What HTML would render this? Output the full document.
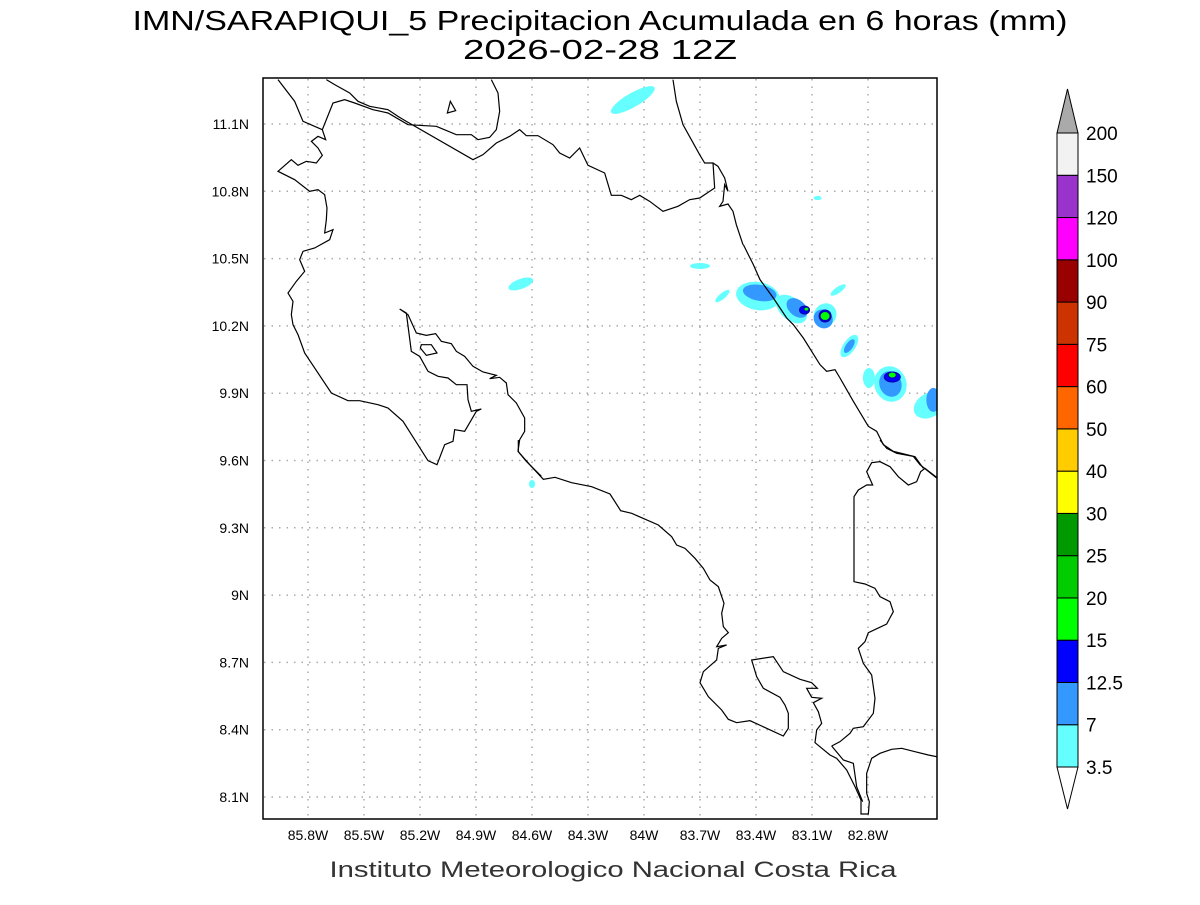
<!DOCTYPE html>
<html><head><meta charset="utf-8"><style>
body{margin:0;background:#fff;width:1200px;height:900px;overflow:hidden}
svg text{font-family:"Liberation Sans","DejaVu Sans",sans-serif}
</style></head><body>
<svg id="chart" width="1200" height="900" viewBox="0 0 1200 900" xmlns="http://www.w3.org/2000/svg">
<rect width="1200" height="900" fill="#fff"/>
<text x="600" y="30" font-size="28" text-anchor="middle" textLength="935" lengthAdjust="spacingAndGlyphs">IMN/SARAPIQUI_5 Precipitacion Acumulada en 6 horas (mm)</text>
<text x="600" y="59" font-size="28" text-anchor="middle" textLength="274" lengthAdjust="spacingAndGlyphs">2026-02-28 12Z</text>
<defs><clipPath id="frameclip"><rect x="263" y="78" width="674" height="741"/></clipPath></defs>
<g id="grid"></g>
<g id="blobs" clip-path="url(#frameclip)"></g>
<g fill="none" stroke="#000" stroke-width="1.2" clip-path="url(#frameclip)">
<g transform="translate(263,78) scale(0.33333)">
<polyline vector-effect="non-scaling-stroke" points="45,5 95,70 120,130 178,155 210,75 245,65 275,75 330,95 375,105 435,140 520,145 580,170 625,170 645,185 680,178 700,155 710,100 705,45 685,5"/>
<polyline vector-effect="non-scaling-stroke" points="190,5 215,20 260,45 285,70 320,85 375,95 405,115 430,130 630,245 660,230 700,195 740,175 770,155 790,173 825,173 870,200 890,225 920,240 950,210 975,262 1025,285 1045,352 1075,352 1105,365 1130,352 1160,370 1200,400 1245,385 1280,365 1310,360 1355,330 1350,255 1325,255 1310,230 1260,140 1240,70 1230,5"/>
<polyline vector-effect="non-scaling-stroke" points="1350,255 1365,265 1385,300 1395,340 1385,320 1380,370 1370,385 1395,378 1410,400 1420,440 1440,500"/>
<polyline vector-effect="non-scaling-stroke" points="178,155 188,185 165,175 145,190 165,210 178,232 160,255 130,250 105,262 85,245 45,280 95,305 140,340 165,335 185,350 192,390 190,425 185,465 210,455 200,485 155,510 120,520 110,545 125,580 100,610 75,645 90,670 85,710 90,740 105,770 125,825 205,945 255,968 290,968 345,980 375,990 420,1030 495,1148 522,1160 545,1100 570,1090 575,1055 605,1060 640,1000 655,993 625,1000 615,965 612,920 580,920 555,900 525,895 495,880 470,835 445,820 430,705 410,693 435,710 460,765 490,772 518,767 535,790 565,797 580,820 605,835 630,865 660,882 700,892 680,902 710,898 730,915 735,950 760,975 785,1020 785,1060 770,1085 765,1120 790,1150 835,1195"/>
<polygon vector-effect="non-scaling-stroke" points="475,800 505,800 522,825 490,832 472,810"/>
<polygon vector-effect="non-scaling-stroke" points="553,105 562,70 578,98"/>
</g>
<g transform="translate(600,78) scale(0.33333)">
<polyline vector-effect="non-scaling-stroke" points="430,500 460,560 480,605 520,660 560,720 580,740 610,780 660,860 680,880 705,875 720,900 760,970 805,1045 830,1060 850,1100 880,1120 940,1135 960,1160 1010,1200"/>
</g>
<g transform="translate(500,440) scale(0.33333)">
<polyline vector-effect="non-scaling-stroke" points="55,0 55,35 90,75 130,118 165,112 215,128 275,140 330,162 362,212 395,220 475,255 515,290 530,315 555,325 585,355 610,385 630,420 655,440 672,490 665,520 670,560 685,578 665,595 650,620 680,615 655,625 650,660 610,695 600,728 625,770 665,810 685,838 710,848 750,842 850,888 865,865 865,820 855,795 840,772 790,745 770,710 755,660 820,650 850,695 900,718 935,728 952,745 920,745 935,772 965,775 940,788 955,815 965,850 950,870 945,908 990,945 1010,955 1040,990 1065,1040 1083,1080 1083,1122 1105,1122 1108,1085 1100,1060 1100,1000 1115,955 1140,940 1175,928 1205,925 1245,935 1285,945 1320,952"/>
<polyline vector-effect="non-scaling-stroke" points="995,918 1030,960 1060,970 1070,1040 1088,1085"/>
<polyline vector-effect="non-scaling-stroke" points="995,918 1020,905 1050,880 1060,865 1090,860 1120,820 1125,775 1115,705 1090,670 1075,625 1095,605 1105,578 1160,552 1180,515 1170,485 1140,470 1125,445 1095,432 1062,425 1062,170 1075,150 1100,135 1118,135 1100,95 1115,68 1140,65 1170,80 1195,110 1225,135 1250,125 1262,95 1275,85 1320,120"/>
<polyline vector-effect="non-scaling-stroke" points="1140,0 1160,25 1190,40 1245,50 1270,85"/>
</g>
</g>
<rect x="263" y="78" width="674" height="741" fill="none" stroke="#000" stroke-width="1.5"/>
<g id="lonlabels"></g>
<g id="latlabels"></g>
<g id="colorbar"></g>
<text x="613" y="877" font-size="22" text-anchor="middle" fill="#333" textLength="567" lengthAdjust="spacingAndGlyphs">Instituto Meteorologico Nacional Costa Rica</text>
</svg>
<script>
const lonTicks=[-85.8,-85.5,-85.2,-84.9,-84.6,-84.3,-84.0,-83.7,-83.4,-83.1,-82.8];
const lonTickLabels=["85.8W","85.5W","85.2W","84.9W","84.6W","84.3W","84W","83.7W","83.4W","83.1W","82.8W"];
const latTicks=[11.1,10.8,10.5,10.2,9.9,9.6,9.3,9.0,8.7,8.4,8.1];
const latTickLabels=["11.1N","10.8N","10.5N","10.2N","9.9N","9.6N","9.3N","9N","8.7N","8.4N","8.1N"];
const levelLabels=["3.5","7","12.5","15","20","25","30","40","50","60","75","90","100","120","150","200"];
const levelColors=["#66ffff","#3399ff","#0000ff","#00ff00","#00cc00","#009900","#ffff00","#ffcc00","#ff6600","#ff0000","#cc3300","#990000","#ff00ff","#9933cc","#f2f2f2"];
// precipitation cells: center lon, lat, contour level index
const blobLon=[-84.06,-83.07,-83.70,-84.66,-83.58,-83.39,-83.38,-83.21,-83.18,-83.14,-83.13,-83.03,-83.04,-83.03,-83.03,-82.96,-82.90,-82.90,-82.795,-82.68,-82.68,-82.67,-82.67,-82.47,-82.45,-84.60];
const blobLat=[11.207,10.770,10.467,10.387,10.333,10.333,10.347,10.275,10.280,10.271,10.275,10.249,10.231,10.244,10.244,10.36,10.11,10.11,9.968,9.941,9.941,9.972,9.981,9.847,9.870,9.495];
const blobLevel=[0,0,0,0,0,0,1,0,1,2,3,0,1,2,3,0,0,1,0,0,1,2,3,0,1,0];
const blobRx=[25,4,10,13,9,22,17,18,12,5,2.5,12,9,6,5,9,13,8,6,16,11,8,4,17,7,3];
const blobRy=[7,2,3,5,3,14,8,11,8,4,2,11,10,6,4.5,3,6,3.5,10,18,13,5,3,12,12,4];
const blobRot=[-30,0,0,-20,-40,10,10,40,40,0,0,-50,-50,0,0,-35,-55,-55,0,-20,-20,0,0,-30,0,0];

const X0=308,XS=186.67,Y0=124,YS=224.33;
const xOf=lon=>X0+(lon+85.8)*XS;
const yOf=lat=>Y0+(11.1-lat)*YS;
const NS="http://www.w3.org/2000/svg";
function mk(tag,attrs,parent){const e=document.createElementNS(NS,tag);for(const k in attrs)e.setAttribute(k,attrs[k]);parent.appendChild(e);return e;}

const grid=document.getElementById('grid');
lonTicks.forEach(v=>{const l=mk('line',{x1:xOf(v),x2:xOf(v),y1:79,y2:818,stroke:'#aaa','stroke-width':1.5,'stroke-dasharray':'1.5 6'},grid);

});
latTicks.forEach(v=>{const l=mk('line',{x1:264,x2:936,y1:yOf(v),y2:yOf(v),stroke:'#aaa','stroke-width':1.5,'stroke-dasharray':'1.5 6'},grid);

});

const lonG=document.getElementById('lonlabels');
lonTicks.forEach((v,i)=>{const t=mk('text',{x:xOf(v),y:840,'font-size':14,'text-anchor':'middle'},lonG);t.textContent=lonTickLabels[i];

});
const latG=document.getElementById('latlabels');
latTicks.forEach((v,i)=>{const t=mk('text',{x:249,y:yOf(v)+5,'font-size':14,'text-anchor':'end'},latG);t.textContent=latTickLabels[i];

});

const bl=document.getElementById('blobs');
blobLon.forEach((lon,i)=>{const cx=xOf(lon),cy=yOf(blobLat[i]);
const e=mk('ellipse',{cx:cx,cy:cy,rx:blobRx[i],ry:blobRy[i],fill:levelColors[blobLevel[i]],transform:`rotate(${blobRot[i]} ${cx} ${cy})`},bl);
if(blobLevel[i]>=2)e.setAttribute('stroke','#0000aa');

});

const cb=document.getElementById('colorbar');
const bx=1057,bw=21,bTop=133,bBot=767,nb=levelColors.length,bh=(bBot-bTop)/nb;
const up=mk('polygon',{points:`${bx},${bTop} ${bx+bw/2},89 ${bx+bw},${bTop}`,fill:'#aaaaaa',stroke:'#000','stroke-width':1},cb);


const dn=mk('polygon',{points:`${bx},${bBot} ${bx+bw/2},809 ${bx+bw},${bBot}`,fill:'#fff',stroke:'#000','stroke-width':1},cb);


levelColors.forEach((c,i)=>{const y=bBot-(i+1)*bh;
const r=mk('rect',{x:bx,y:y,width:bw,height:bh,fill:c,stroke:'#000','stroke-width':1},cb);

});
levelLabels.forEach((s,i)=>{const y=bBot-i*bh;
const t=mk('text',{x:1086,y:y+7,'font-size':19},cb);t.textContent=s;

});
</script>
</body></html>
